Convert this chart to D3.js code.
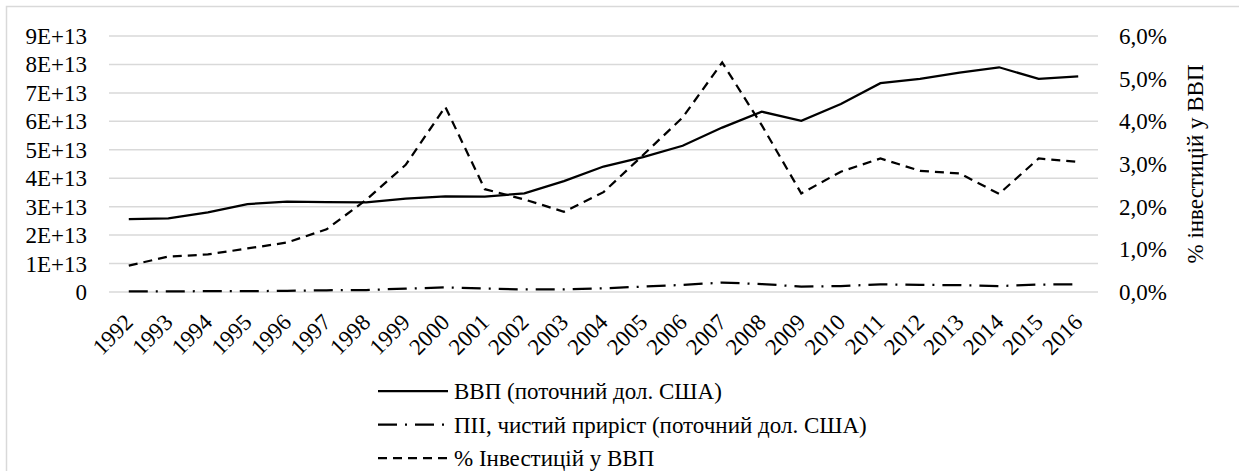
<!DOCTYPE html>
<html>
<head>
<meta charset="utf-8">
<script src="https://cdn.jsdelivr.net/npm/d3@7"></script>
<style>
  body { margin: 0; background: #fff; }
  text { font-family: 'Liberation Serif', serif; }
</style>
</head>
<body>
<svg id="chart"></svg>
<script>
// years on the x axis
var years = ["1992","1993","1994","1995","1996","1997","1998","1999","2000","2001","2002","2003","2004",
  "2005","2006","2007","2008","2009","2010","2011","2012","2013","2014","2015","2016"];

// GDP, current US$ (left axis)
var gdp = [2.56e13, 2.59e13, 2.80e13, 3.09e13, 3.18e13, 3.16e13, 3.15e13, 3.28e13, 3.36e13, 3.35e13,
  3.47e13, 3.90e13, 4.41e13, 4.74e13, 5.14e13, 5.78e13, 6.34e13, 6.02e13, 6.61e13, 7.34e13,
  7.49e13, 7.71e13, 7.90e13, 7.49e13, 7.58e13];

// FDI net inflows, current US$ (left axis)
var fdi = [0.02e13, 0.02e13, 0.03e13, 0.03e13, 0.04e13, 0.06e13, 0.07e13, 0.12e13, 0.16e13, 0.12e13,
  0.09e13, 0.09e13, 0.13e13, 0.19e13, 0.25e13, 0.33e13, 0.28e13, 0.19e13, 0.21e13, 0.27e13,
  0.25e13, 0.24e13, 0.21e13, 0.26e13, 0.27e13];

// % investment in GDP (right axis)
var invPct = [0.62, 0.83, 0.88, 1.02, 1.16, 1.47, 2.16, 2.98, 4.34, 2.41, 2.17, 1.88, 2.34,
  3.21, 4.09, 5.38, 3.91, 2.31, 2.82, 3.13, 2.84, 2.78, 2.30, 3.13, 3.05];

var leftTicks = [0, 1e13, 2e13, 3e13, 4e13, 5e13, 6e13, 7e13, 8e13, 9e13];
var rightTicks = [0, 1, 2, 3, 4, 5, 6];

var seriesNames = ["ВВП (поточний дол. США)", "ПІІ, чистий приріст (поточний дол. США)", "% Інвестицій у ВВП"];
var rightTitle = "% інвестицій у ВВП";

var screen = { width: 1239, height: 471 };
var plot = { left: 109, right: 1098, top: 36, bottom: 292 };
var fontSize = 23;

var svg = d3.select("#chart").attr("width", screen.width).attr("height", screen.height);

// chart border
svg.append("rect")
  .attr("x", 6.5).attr("y", 6.5)
  .attr("width", screen.width + 20).attr("height", screen.height + 20)
  .attr("fill", "none").attr("stroke", "#d9d9d9").attr("stroke-width", 1.5);

var x = d3.scaleBand().domain(years).range([plot.left, plot.right]);
var yLeft = d3.scaleLinear().domain([0, 9e13]).range([plot.bottom, plot.top]);
var yRight = d3.scaleLinear().domain([0, 6]).range([plot.bottom, plot.top]);

var addText = function (sel) {
  return sel.append("text")
    .style("font-family", "'Liberation Serif', serif")
    .style("font-size", fontSize + "px")
    .attr("fill", "#000");
};

// gridlines
svg.append("g").selectAll("line").data(leftTicks).enter().append("line")
  .attr("x1", plot.left).attr("x2", plot.right)
  .attr("y1", function (d) { return yLeft(d); })
  .attr("y2", function (d) { return yLeft(d); })
  .attr("stroke", "#d9d9d9").attr("stroke-width", 1.5);

// left axis labels
addText(svg.append("g").selectAll("text").data(leftTicks).enter())
  .attr("x", 87)
  .attr("y", function (d) { return yLeft(d); })
  .attr("dy", "0.35em")
  .attr("text-anchor", "end")
  .text(function (d) { return d === 0 ? "0" : (d / 1e13) + "E+13"; });

// right axis labels
addText(svg.append("g").selectAll("text").data(rightTicks).enter())
  .attr("x", 1119)
  .attr("y", function (d) { return yRight(d); })
  .attr("dy", "0.35em")
  .attr("text-anchor", "start")
  .text(function (d) { return d.toFixed(1).replace(".", ",") + "%"; });

// right axis title
addText(svg)
  .attr("transform", "translate(1195," + ((plot.top + plot.bottom) / 2) + ") rotate(-90)")
  .attr("dy", "0.35em")
  .attr("text-anchor", "middle")
  .text(rightTitle);

// x labels, rotated
addText(svg.append("g").selectAll("text").data(years).enter())
  .attr("transform", function (d) {
    return "translate(" + (x(d) + x.bandwidth() / 2) + "," + (plot.bottom + 26) + ") rotate(-45)";
  })
  .attr("dy", "0.35em")
  .attr("text-anchor", "end")
  .text(function (d) { return d; });

var cx = function (i) { return x(years[i]) + x.bandwidth() / 2; };

var styles = [
  { dash: null },
  { dash: "19,8,2,8" },
  { dash: "9,6" }
];

var lineLeft = d3.line().x(function (d, i) { return cx(i); }).y(function (d) { return yLeft(d); });
var lineRight = d3.line().x(function (d, i) { return cx(i); }).y(function (d) { return yRight(d); });

svg.append("path").datum(fdi).attr("d", lineLeft)
  .attr("fill", "none").attr("stroke", "#000").attr("stroke-width", 2.25)
  .attr("stroke-dasharray", styles[1].dash);
svg.append("path").datum(invPct).attr("d", lineRight)
  .attr("fill", "none").attr("stroke", "#000").attr("stroke-width", 2.25)
  .attr("stroke-dasharray", styles[2].dash);
svg.append("path").datum(gdp).attr("d", lineLeft)
  .attr("fill", "none").attr("stroke", "#000").attr("stroke-width", 2.25);

// legend
var rows = svg.append("g").selectAll("g").data(seriesNames).enter().append("g")
  .attr("transform", function (d, i) { return "translate(378," + (391 + i * 33.5) + ")"; });
rows.append("line")
  .attr("x1", 0).attr("x2", 70).attr("y1", 0).attr("y2", 0)
  .attr("stroke", "#000").attr("stroke-width", 2.25)
  .attr("stroke-dasharray", function (d, i) { return styles[i].dash; });
addText(rows)
  .attr("x", 76).attr("dy", "0.35em")
  .text(function (d) { return d; });
</script>
</body>
</html>
